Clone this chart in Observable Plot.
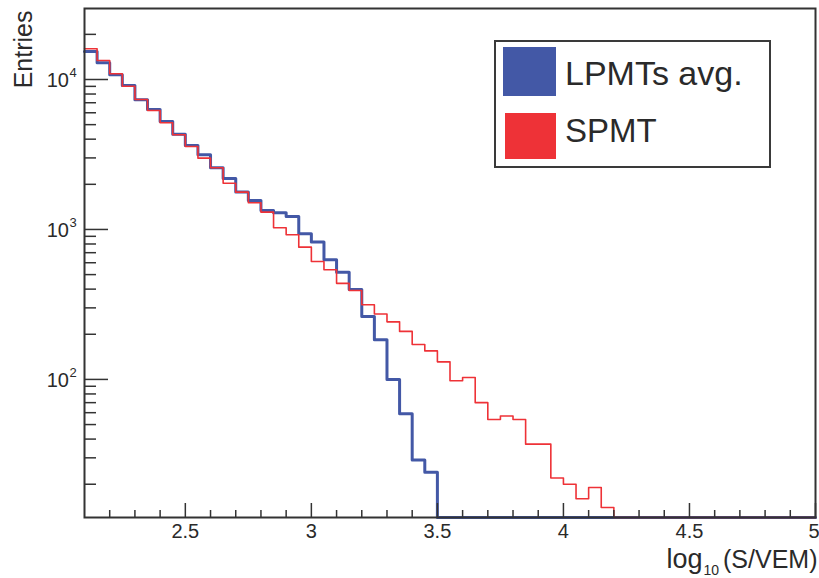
<!DOCTYPE html>
<html>
<head>
<meta charset="utf-8">
<script src="https://cdn.jsdelivr.net/npm/d3@7"></script>
<script src="https://cdn.jsdelivr.net/npm/@observablehq/plot@0.6"></script>
<style>
  body { margin: 0; background: #fff; }
  #wrap { position: relative; width: 819px; height: 578px; font-family: "Liberation Sans", Arial, sans-serif; }
  #legend { position: absolute; left: 0; top: 0; pointer-events: none; }
</style>
</head>
<body>
<div id="wrap"></div>
<script>
// ---- data ----
const binLowEdges = [2.10,2.15,2.20,2.25,2.30,2.35,2.40,2.45,2.50,2.55,2.60,2.65,2.70,2.75,2.80,2.85,2.90,2.95,
  3.00,3.05,3.10,3.15,3.20,3.25,3.30,3.35,3.40,3.45,3.50,3.55,3.60,3.65,3.70,3.75,3.80,3.85,3.90,3.95,
  4.00,4.05,4.10,4.15,4.20,4.25,4.30,4.35,4.40,4.45,4.50,4.55,4.60,4.65,4.70,4.75,4.80,4.85,4.90,4.95];
const lastEdge = 5.0;

const lpmtCounts = [15370,12920,10750,9120,7322,6310,5248,4319,3631,3148,2578,2188,1778,1561,1339,1292,1221,936,
  825,628,519,398,263,184,100,59,29,24,
  0,0,0,0,0,0,0,0,0,0,0,0,0,0,0,0,0,0,0,0,0,0,0,0,0,0,0,0,0,0];
const spmtCounts = [16020,13390,10915,9023,7356,6215,5144,4279,3575,2988,2578,2035,1773,1507,1304,1026,922,762,
  612,539,437,392,315,273,242,209,171,155,131,98,103,70,54,57,54,37,37,22,20,16,19,14,
  0,0,0,0,0,0,0,0,0,0,0,0,0,0,0,0];

const seriesNames = ["LPMTs avg.", "SPMT"];
const seriesColors = ["#4358a6", "#ee3237"];

const xMajorTicks = [2.5, 3, 3.5, 4, 4.5, 5];
const xMinorTicks = [2.2,2.3,2.4,2.6,2.7,2.8,2.9,3.1,3.2,3.3,3.4,3.6,3.7,3.8,3.9,4.1,4.2,4.3,4.4,4.6,4.7,4.8,4.9];
const xTickLabels = ["2.5", "3", "3.5", "4", "4.5", "5"];
const yMajorTicks = [100, 1000, 10000];
const yExponents = ["2", "3", "4"];
const yMinorTicks = [20,30,40,50,60,70,80,90,200,300,400,500,600,700,800,900,
  2000,3000,4000,5000,6000,7000,8000,9000,20000];
const yTitle = "Entries";
const xTitleParts = ["log", "10", "(S/VEM)"];

const yMin = 12, yMax = 29750;

// build step outlines (empty bins sit on the frame bottom as in ROOT)
function steps(counts) {
  const pts = binLowEdges.map((x, i) => ({x, y: Math.max(counts[i], yMin)}));
  pts.push({x: lastEdge, y: Math.max(counts[counts.length - 1], yMin)});
  return pts;
}
const lpmtPts = steps(lpmtCounts);
const spmtPts = steps(spmtCounts);

const W = 819, H = 578, mL = 84, mR = 4, mT = 8, mB = 61;
const plotW = W - mL - mR, plotH = H - mT - mB;
const ink = "#2a2a2a";
const lastIdx = xMajorTicks.length - 1;

const chart = Plot.plot({
  width: W, height: H,
  marginLeft: mL, marginRight: mR, marginTop: mT, marginBottom: mB,
  x: {domain: [binLowEdges[0], lastEdge], axis: null},
  y: {type: "log", domain: [yMin, yMax], axis: null},
  style: {fontFamily: "'Liberation Sans', Arial, sans-serif", color: ink, background: "white", overflow: "visible"},
  marks: [
    Plot.line(lpmtPts, {x: "x", y: "y", curve: "step-after", stroke: seriesColors[0], strokeWidth: 3}),
    Plot.line(spmtPts, {x: "x", y: "y", curve: "step-after", stroke: seriesColors[1], strokeWidth: 1.6}),
    Plot.frame({stroke: "#333", strokeWidth: 2}),
    Plot.tickX(xMajorTicks, {x: d => d, insetTop: plotH - 14, stroke: "#333", strokeWidth: 1.5}),
    Plot.tickX(xMinorTicks, {x: d => d, insetTop: plotH - 7, stroke: "#333", strokeWidth: 1.5}),
    Plot.tickY(yMajorTicks, {y: d => d, insetRight: plotW - 24, stroke: "#333", strokeWidth: 1.5}),
    Plot.tickY(yMinorTicks, {y: d => d, insetRight: plotW - 12, stroke: "#333", strokeWidth: 1.5}),
    Plot.text(xMajorTicks.slice(0, lastIdx), {x: d => d, frameAnchor: "bottom", dy: 6, lineAnchor: "top",
      text: (d, i) => xTickLabels[i], fontSize: 20, fill: ink}),
    Plot.text([xMajorTicks[lastIdx]], {x: d => d, frameAnchor: "bottom", dx: 4, dy: 6, lineAnchor: "top",
      textAnchor: "end", text: () => xTickLabels[lastIdx], fontSize: 20, fill: ink}),
    Plot.text(yMajorTicks, {y: d => d, frameAnchor: "left", dx: -15.5, dy: 1.5, textAnchor: "end",
      text: () => "10", fontSize: 20, fill: ink}),
    Plot.text(yMajorTicks, {y: d => d, frameAnchor: "left", dx: -15, dy: -7, textAnchor: "start",
      text: (d, i) => yExponents[i], fontSize: 13, fill: ink}),
    Plot.text([yTitle], {frameAnchor: "top-left", dx: 31 - mL, dy: 10 - mT, rotate: -90,
      textAnchor: "end", lineAnchor: "bottom", text: d => d, fontSize: 25, fill: ink}),
    Plot.text([xTitleParts[0]], {frameAnchor: "bottom-right", dx: -149, dy: 50, textAnchor: "start",
      lineAnchor: "bottom", text: d => d, fontSize: 27, fill: ink}),
    Plot.text([xTitleParts[1]], {frameAnchor: "bottom-right", dx: -112, dy: 57, textAnchor: "start",
      lineAnchor: "bottom", text: d => d, fontSize: 14, fill: ink}),
    Plot.text([xTitleParts[2]], {frameAnchor: "bottom-right", dx: 2, dy: 50, textAnchor: "end",
      lineAnchor: "bottom", text: d => d, fontSize: 25, fill: ink})
  ]
});

const wrap = document.getElementById("wrap");
wrap.appendChild(chart);

// legend box drawn inside the frame (top-right), as in the ROOT canvas
const ns = "http://www.w3.org/2000/svg";
const leg = document.createElementNS(ns, "svg");
leg.setAttribute("id", "legend");
leg.setAttribute("width", W);
leg.setAttribute("height", H);
function el(tag, attrs, txt) {
  const e = document.createElementNS(ns, tag);
  for (const k in attrs) e.setAttribute(k, attrs[k]);
  if (txt) e.textContent = txt;
  leg.appendChild(e);
  return e;
}
el("rect", {x: 495, y: 41, width: 275, height: 126, fill: "white", stroke: "#3a3a3a", "stroke-width": 2});
const swatches = [{x: 503, y: 47, w: 53, h: 49}, {x: 505, y: 113, w: 51, h: 46}];
const labelY = [85, 142], labelSize = [34, 33];
seriesNames.forEach((name, i) => {
  el("rect", {x: swatches[i].x, y: swatches[i].y, width: swatches[i].w, height: swatches[i].h, fill: seriesColors[i]});
  el("text", {x: 565, y: labelY[i], "font-size": labelSize[i], fill: ink,
    "font-family": "'Liberation Sans', Arial, sans-serif"}, name);
});
wrap.appendChild(leg);
</script>
</body>
</html>
